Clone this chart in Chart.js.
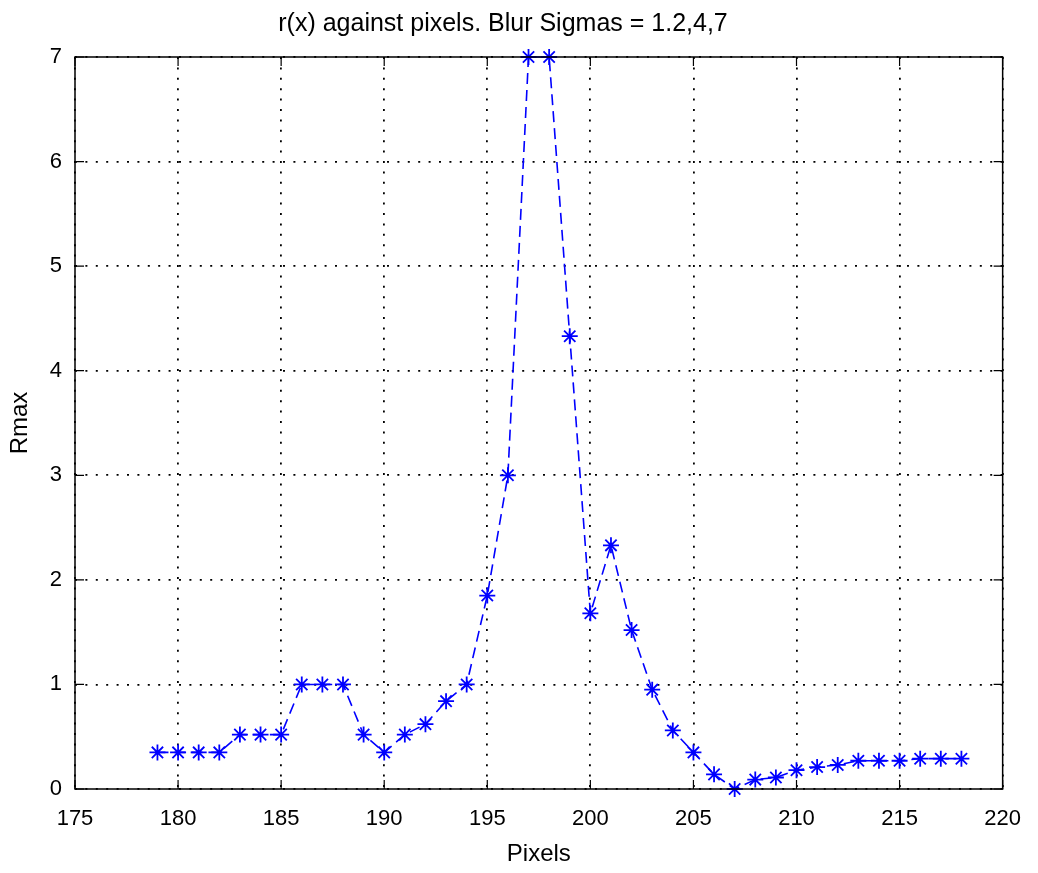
<!DOCTYPE html>
<html>
<head>
<meta charset="utf-8">
<script src="https://cdn.jsdelivr.net/npm/chart.js@4"></script>
<style>
  body { margin: 0; background: #fff; }
  #wrap { width: 1038px; height: 873px; }
</style>
</head>
<body>
<div id="wrap"><canvas id="rChart"></canvas></div>
<script>
// values
const pixels = [179, 180, 181, 182, 183, 184, 185, 186, 187, 188, 189, 190, 191, 192, 193, 194, 195, 196, 197, 198,
  199, 200, 201, 202, 203, 204, 205, 206, 207, 208, 209, 210, 211, 212, 213, 214, 215, 216, 217, 218];
const rmax = [0.35, 0.35, 0.35, 0.35, 0.52, 0.52, 0.52, 1.0, 1.0, 1.0, 0.52, 0.35, 0.52, 0.62, 0.84, 1.0, 1.85, 3.0, 7.0, 7.0,
  4.33, 1.68, 2.33, 1.52, 0.95, 0.56, 0.35, 0.14, 0.0, 0.09, 0.11, 0.18, 0.21, 0.23, 0.27, 0.27, 0.27, 0.29, 0.29, 0.29];
const xTicks = [175, 180, 185, 190, 195, 200, 205, 210, 215, 220];
const yTicks = [0, 1, 2, 3, 4, 5, 6, 7];

const points = pixels.map((p, i) => ({ x: p, y: rmax[i] }));
const font = "'Liberation Sans', Arial, sans-serif";

// box around the plot plus the little inward tick marks (matlab style)
const boxPlugin = {
  id: "box",
  afterDraw(chart) {
    const { ctx, chartArea: a, scales } = chart;
    ctx.save();
    ctx.strokeStyle = "#000";
    ctx.lineWidth = 1.5;
    ctx.strokeRect(a.left, a.top, a.right - a.left, a.bottom - a.top);
    ctx.lineWidth = 1.2;
    ctx.beginPath();
    xTicks.forEach((t) => {
      const px = scales.x.getPixelForValue(t);
      ctx.moveTo(px, a.bottom); ctx.lineTo(px, a.bottom - 9);
      ctx.moveTo(px, a.top); ctx.lineTo(px, a.top + 9);
    });
    yTicks.forEach((t) => {
      const py = scales.y.getPixelForValue(t);
      ctx.moveTo(a.left, py); ctx.lineTo(a.left + 9, py);
      ctx.moveTo(a.right, py); ctx.lineTo(a.right - 9, py);
    });
    ctx.stroke();
    ctx.restore();
  },
};

new Chart(document.getElementById("rChart"), {
  type: "line",
  data: {
    datasets: [
      {
        label: "r(x)",
        data: points,
        borderColor: "#0000ff",
        backgroundColor: "#0000ff",
        borderWidth: 1.6,
        borderDash: [11, 6],
        pointStyle: "star",
        pointRadius: 8,
        pointBorderWidth: 1.8,
        pointBorderColor: "#0000ff",
        tension: 0,
        clip: false,
      },
    ],
  },
  options: {
    responsive: true,
    maintainAspectRatio: false,
    animation: false,
    layout: { padding: { left: 0, right: 32, top: 0, bottom: 0 } },
    scales: {
      x: {
        type: "linear",
        min: 175,
        max: 220,
        afterBuildTicks: (s) => { s.ticks = xTicks.map((v) => ({ value: v })); },
        afterFit: (s) => { s.height = 84; },
        grid: { color: "#000", lineWidth: 1.8, drawTicks: false },
        border: { display: false, dash: [2, 8.4] },
        ticks: { color: "#000", font: { family: font, size: 22 }, padding: 17, maxRotation: 0 },
        title: { display: true, text: "Pixels", color: "#000", font: { family: font, size: 24 }, padding: { top: 7 } },
      },
      y: {
        min: 0,
        max: 7,
        afterBuildTicks: (s) => { s.ticks = yTicks.map((v) => ({ value: v })); },
        afterFit: (s) => { s.width = 75; },
        grid: { color: "#000", lineWidth: 1.8, drawTicks: false },
        border: { display: false, dash: [2, 8.4] },
        ticks: { color: "#000", font: { family: font, size: 22 }, padding: 13 },
        title: { display: true, text: "Rmax", color: "#000", font: { family: font, size: 24 }, padding: { top: 6, bottom: 0 } },
      },
    },
    plugins: {
      legend: { display: false },
      tooltip: { enabled: false },
      title: {
        display: true,
        text: "r(x) against pixels. Blur Sigmas = 1.2,4,7",
        color: "#000",
        font: { family: font, size: 25, weight: "normal" },
        padding: { top: 9, bottom: 18 },
      },
    },
  },
  plugins: [boxPlugin],
});
</script>
</body>
</html>
